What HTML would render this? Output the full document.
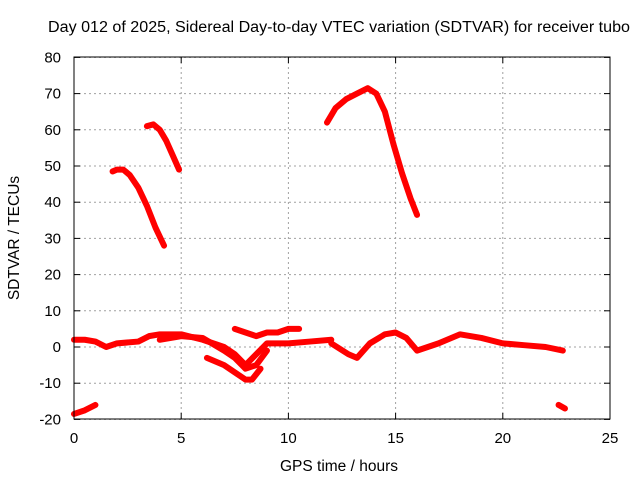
<!DOCTYPE html>
<html><head><meta charset="utf-8"><style>
body{margin:0;background:#fff}
svg{font-family:"Liberation Sans",sans-serif;font-size:13px}
</style></head><body>
<svg id="chart" width="640" height="480">
<text x="339" y="32" text-anchor="middle" font-size="15.5" textLength="582" lengthAdjust="spacingAndGlyphs">Day 012 of 2025, Sidereal Day-to-day VTEC variation (SDTVAR) for receiver tubo</text>
<text x="339" y="471" text-anchor="middle" font-size="15.5">GPS time / hours</text>
<text transform="translate(19,238) rotate(-90)" text-anchor="middle" font-size="15.5">SDTVAR / TECUs</text>
<g id="grid"></g><g id="ticks"></g><g id="series"></g>
<rect x="74" y="57" width="536" height="362" fill="none" stroke="#000"/>
</svg>
<script>
const xTicks=[0,5,10,15,20,25];
const yTicks=[-20,-10,0,10,20,30,40,50,60,70,80];
const seriesX=[
[1.8,2.0,2.3,2.6,3.0,3.4,3.8,4.2],
[3.4,3.7,4.0,4.3,4.6,4.9],
[11.8,12.2,12.7,13.2,13.7,14.1,14.5,14.9,15.3,15.7,16.0],
[0,0.5,1,1.5,2,3,3.5,4,5,6,7,7.5,8,8.5,9,10,11,12],
[4,5,6,7,7.5,8,8.5,9],
[6.2,7,7.5,8,8.3,8.7],
[7.5,8,8.5,9,9.5,10,10.5],
[12,12.8,13.2,13.8,14.5,15,15.5,16,16.5,17,18,19,20,21,22,22.8],
[0,0.5,1],
[22.6,22.9]];
const seriesY=[
[48.5,49,49,47.5,44,39,33,28],
[61,61.5,60,57,53,49],
[62,66,68.5,70,71.5,70,65,56,48,41,36.5],
[2,2,1.5,0,1,1.5,3,3.5,3.5,2,0,-2,-5,-2,1,1,1.5,2],
[2,3,2.5,-1,-3,-6,-5,-1],
[-3,-5,-7,-9,-9,-6],
[5,4,3,4,4,5,5],
[1,-2,-3,1,3.5,4,2.5,-1,0,1,3.5,2.5,1,0.5,0,-1],
[-18.5,-17.5,-16],
[-16,-17]];
const X=v=>74+v*536/25, Y=v=>347-v*362/100;
const ns="http://www.w3.org/2000/svg";
const g=document.getElementById('grid'),t=document.getElementById('ticks'),s=document.getElementById('series');
function mk(p,tag,a){const e=document.createElementNS(ns,tag);for(const k in a)e.setAttribute(k,a[k]);p.appendChild(e);return e;}
xTicks.forEach(v=>{
 const l=mk(g,'line',{x1:X(v),x2:X(v),y1:57,y2:419,stroke:'#a0a0a0','stroke-dasharray':'2,3'});
 
 
 mk(t,'line',{x1:X(v),x2:X(v),y1:419,y2:413,stroke:'#000'});
 mk(t,'line',{x1:X(v),x2:X(v),y1:57,y2:63,stroke:'#000'});
 const tx=mk(t,'text',{x:X(v),y:443,'text-anchor':'middle','font-size':15});tx.textContent=v;
 
 
});
yTicks.forEach(v=>{
 const l=mk(g,'line',{x1:74,x2:610,y1:Y(v),y2:Y(v),stroke:'#a0a0a0','stroke-dasharray':'2,3'});
 
 
 mk(t,'line',{x1:74,x2:80,y1:Y(v),y2:Y(v),stroke:'#000'});
 mk(t,'line',{x1:610,x2:604,y1:Y(v),y2:Y(v),stroke:'#000'});
 const tx=mk(t,'text',{x:61,y:Y(v)+5,'text-anchor':'end','font-size':15});tx.textContent=v;
 
 
});
seriesX.forEach((xs,i)=>{
 const pts=xs.map((x,j)=>X(x)+','+Y(seriesY[i][j])).join(' ');
 const pl=mk(s,'polyline',{points:pts,fill:'none',stroke:'#f00','stroke-width':6,'stroke-linejoin':'round','stroke-linecap':'round'});
 
 
});
</script>
</body></html>
